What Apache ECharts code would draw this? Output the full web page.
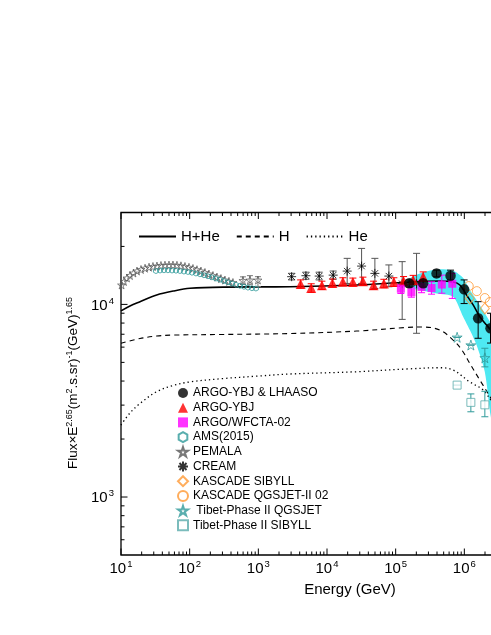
<!DOCTYPE html>
<html><head><meta charset="utf-8">
<script src="https://cdn.jsdelivr.net/npm/echarts@6/dist/echarts.min.js"></script>
<style>html,body{margin:0;padding:0;background:#fff}#c{width:491px;height:635px}</style>
</head><body><div id="c"></div>
<script>
// ---- axis extents & ticks ----
const X_MIN = 10, X_MAX = 1e7, Y_MIN = 500, Y_MAX = 30000;
const xMajorTicks = [10, 100, 1000, 1e4, 1e5, 1e6, 1e7];
const yMajorTicks = [1000, 10000];
const minorMultipliers = [2, 3, 4, 5, 6, 7, 8, 9];

// ---- model curves ----
const hHeE = [10, 13.5, 18.9, 33.1, 57.7, 101, 308, 2884, 26980, 144200, 439500, 687000, 859600, 1.076e6, 1.344e6, 1.681e6, 2.104e6, 2.43e6, 3.9e6];
const hHeF = [9250, 9820, 10330, 11190, 11730, 12120, 12300, 12350, 12610, 13030, 13220, 13060, 12610, 11190, 9940, 8630, 7820, 7360, 6000];
const hE = [10, 18.9, 33, 57, 306, 2880, 27000, 144000, 249000, 440000, 687000, 920000, 1.2e6, 1.68e6, 2.22e6, 2.78e6];
const hF = [6280, 6650, 6850, 6930, 6980, 7060, 7270, 7590, 7630, 7360, 6530, 5800, 4940, 4050, 3450, 3000];
const heE = [10, 13.5, 18.9, 33, 57, 101, 306, 944, 2880, 27000, 144000, 440000, 687000, 1.2e6, 1.87e6, 2.43e6, 3.3e6];
const heF = [2365, 2730, 3060, 3520, 3790, 3960, 4120, 4240, 4350, 4470, 4620, 4690, 4560, 3960, 3600, 3190, 2760];

// ---- uncertainty band ----
const bandE = [150600, 225000, 393800, 687000, 961000, 1.203e6, 1.506e6, 1.988e6, 2.43e6, 3.29e6];
const bandHi = [13390, 14490, 15200, 14960, 13710, 11880, 10540, 8990, 7980, 6530];
const bandLo = [12310, 11880, 11400, 10970, 8630, 7360, 6150, 4460, 2610, 1560];

// ---- measurements ----
const lhaasoE = [157400, 251400, 393800, 629700, 993000, 1.589e6, 2.405e6];
const lhaasoF = [12860, 12860, 14490, 14080, 11970, 8470, 7520];
const lhaasoLo = [12300, 12300, 13900, 13390, 10100, 6670, 6300];
const lhaasoHi = [13400, 13400, 15060, 15060, 13400, 10330, 9000];

const argoE = [4130, 5890, 8430, 12000, 17040, 23820, 33340, 47670, 67300, 94150, 130300, 179700, 251400];
const argoF = [12760, 12160, 12560, 12910, 13120, 13060, 13180, 12560, 12830, 13060, 13220, 13390, 13930];
const argoLo = [12150, 11550, 11950, 12300, 12500, 12450, 12550, 11950, 12200, 12400, 12500, 12650, 13150];
const argoHi = [13400, 12800, 13200, 13550, 13750, 13700, 13850, 13200, 13500, 13750, 13950, 14150, 14750];

const wfE = [119000, 169400, 238300, 333300, 470000, 668000];
const wfF = [12060, 11550, 12300, 12160, 12680, 12800];
const wfLo = [11400, 10900, 11500, 11300, 11430, 10740];
const wfHi = [12700, 12200, 13300, 13100, 14190, 14490];

const amsE = [32.3, 37.0, 42.3, 48.3, 55.3, 63.2, 72.2, 82.6, 94.5, 108, 123.5, 141.2, 161.5, 184.7, 211.2, 241.4, 276.1, 315.7, 361, 412.8, 472, 539.8, 617, 705.7, 807, 922.7];
const amsF = [14900, 14990, 15030, 15030, 14990, 14960, 14900, 14810, 14730, 14600, 14470, 14330, 14170, 14000, 13820, 13620, 13430, 13220, 13020, 12840, 12650, 12490, 12340, 12220, 12130, 12090];

const pamelaE = [10.2, 11.06, 12.23, 13.52, 15.2, 17.1, 19.55, 22.4, 25.6, 29.2, 33.4, 38.2, 43.7, 50.0, 57.1, 65.3, 74.7, 85.4, 97.7, 111.7, 127.7, 146.0, 167.0, 190.9, 218.4, 249.7, 285.5, 326.4, 373.3, 426.8, 597, 755, 987];
const pamelaF = [12610, 13150, 13710, 14120, 14550, 14900, 15180, 15410, 15600, 15730, 15820, 15920, 15980, 16010, 16010, 15960, 15860, 15730, 15580, 15360, 15140, 14900, 14640, 14380, 14120, 13870, 13620, 13380, 13170, 12990, 13300, 13380, 13380];
const pamelaErrE = [597, 755, 987];
const pamelaErrLo = [12700, 12650, 12390];
const pamelaErrHi = [13900, 14100, 13930];

const creamE = [3055, 4930, 7690, 12300, 19670, 31900, 49800, 79600, 124400, 201500];
const creamF = [13930, 14090, 14030, 14190, 14890, 15810, 14490, 14030, 12800, 12800];
const creamLo = [13400, 13500, 13400, 13500, 12850, 12850, 12100, 12350, 8360, 7080];
const creamHi = [14500, 14700, 14700, 14900, 17340, 19530, 17340, 16030, 16670, 18410];

const kasSibE = [1.2e6, 1.99e6];
const kasSibF = [10740, 9530];
const kasQgsE = [1.16e6, 1.52e6, 1.99e6, 2.35e6];
const kasQgsF = [12450, 11720, 10790, 10280];

const tibQgsE = [785000, 1.245e6, 1.99e6];
const tibQgsF = [6750, 6150, 5280];
const tibQgsLo = [6750, 6150, 4740];
const tibQgsHi = [6750, 6150, 5920];
const tibSibE = [785000, 1.245e6, 1.99e6];
const tibSibF = [3810, 3100, 3010];
const tibSibLo = [3810, 2770, 2610];
const tibSibHi = [3810, 3430, 3540];

const lineNames = ['H+He', 'H', 'He'];
const pointNames = ['ARGO-YBJ & LHAASO', 'ARGO-YBJ', 'ARGO/WFCTA-02', 'AMS(2015)', 'PEMALA', 'CREAM', 'KASCADE SIBYLL', 'KASCADE QGSJET-II 02', ' Tibet-Phase II QGSJET', 'Tibet-Phase II SIBYLL'];

// ---- helpers ----
const zip = (a, b) => a.map((v, i) => [v, b[i]]);
const zip3 = (a, b, c) => a.map((v, i) => [v, b[i], c[i]]);
const FONT = '"Liberation Sans", Arial, sans-serif';
const TEAL = '#2f9a9a';
const ORANGE = '#ff9933';

const STAR = 'path://M0,-1L0.2245,-0.309L0.951,-0.309L0.363,0.118L0.588,0.809L0,0.382L-0.588,0.809L-0.363,0.118L-0.951,-0.309L-0.2245,-0.309Z';
const HEX = 'path://M0,-1L0.866,-0.5L0.866,0.5L0,1L-0.866,0.5L-0.866,-0.5Z';
const AST = 'path://M0,-1L0,1M-1,0L1,0M-0.707,-0.707L0.707,0.707M-0.707,0.707L0.707,-0.707';

function errSeries(E, lo, hi, color, cap, width) {
  return {
    type: 'custom', silent: true, z: 4,
    data: zip3(E, lo, hi),
    encode: { x: 0, y: [1, 2] },
    renderItem: function (params, api) {
      const x = api.value(0);
      const a = api.coord([x, api.value(1)]);
      const b = api.coord([x, api.value(2)]);
      const st = { stroke: color, lineWidth: width || 1 };
      return { type: 'group', children: [
        { type: 'line', shape: { x1: a[0], y1: a[1], x2: b[0], y2: b[1] }, style: st },
        { type: 'line', shape: { x1: a[0] - cap, y1: a[1], x2: a[0] + cap, y2: a[1] }, style: st },
        { type: 'line', shape: { x1: b[0] - cap, y1: b[1], x2: b[0] + cap, y2: b[1] }, style: st }
      ] };
    }
  };
}

// tick data
const xTickData = [], yTickData = [];
xMajorTicks.forEach(v => { xTickData.push([v, Y_MIN, 6.5]); if (v < X_MAX) minorMultipliers.forEach(m => xTickData.push([v * m, Y_MIN, 3.5])); });
yTickData.push([X_MIN, 600, 3.5], [X_MIN, 700, 3.5], [X_MIN, 800, 3.5], [X_MIN, 900, 3.5]);
yMajorTicks.forEach(v => { yTickData.push([X_MIN, v, 6.5]); minorMultipliers.forEach(m => { if (v * m < Y_MAX) yTickData.push([X_MIN, v * m, 3.5]); }); });

const tickStyle = { stroke: '#000', lineWidth: 1 };

const chart = echarts.init(document.getElementById('c'), null, { renderer: 'canvas' });
const supRich = {
  b: { fontSize: 15, fontFamily: FONT, color: '#000', verticalAlign: 'bottom' },
  s: { fontSize: 9.5, fontFamily: FONT, color: '#000', verticalAlign: 'bottom', padding: [0, 0, 7, 1] }
};
function powFmt(v) {
  const e = Math.round(Math.log10(v));
  if (Math.abs(Math.log10(v) - e) > 1e-6) return '';
  return '{b|10}{s|' + e + '}';
}

chart.setOption({
  animation: false,
  backgroundColor: '#fff',
  textStyle: { fontFamily: FONT },
  grid: { left: 121, top: 212.5, width: 412, height: 342.5, show: true, borderColor: '#000', borderWidth: 1.3, containLabel: false, outerBoundsMode: 'none' },
  xAxis: {
    type: 'log', logBase: 10, min: X_MIN, max: X_MAX,
    axisLine: { show: false }, axisTick: { show: false }, splitLine: { show: false }, minorTick: { show: false },
    axisLabel: { formatter: powFmt, rich: supRich, margin: 4, showMinLabel: true, showMaxLabel: true }
  },
  yAxis: {
    type: 'log', logBase: 10, min: Y_MIN, max: Y_MAX,
    axisLine: { show: false }, axisTick: { show: false }, splitLine: { show: false },
    axisLabel: { formatter: powFmt, rich: supRich, margin: 7 }
  },
  legend: [
    { data: lineNames, orient: 'horizontal', left: 133, top: 224, itemWidth: 37, itemHeight: 10, itemGap: 16,
      itemStyle: { opacity: 0 },
      textStyle: { fontSize: 15, fontFamily: FONT, color: '#000' }, selectedMode: false },
    { data: pointNames, orient: 'vertical', left: 172, top: 382, itemWidth: 10, itemHeight: 10, itemGap: 2.7,
      textStyle: { fontSize: 12, fontFamily: FONT, color: '#000' }, selectedMode: false }
  ],
  graphic: [
    { type: 'text', x: 73, y: 383, rotation: Math.PI / 2, z: 10,
      style: { text: 'Flux×E{s|2.65}(m{s|2}.s.sr){s|-1}(GeV){s|1.65}', align: 'center', verticalAlign: 'middle',
        font: '13.5px ' + FONT, fill: '#000',
        rich: { s: { fontSize: 9, fontFamily: FONT, verticalAlign: 'bottom', padding: [0, 0, 6, 0] } } } },
    { type: 'text', x: 350, y: 590, z: 10,
      style: { text: 'Energy (GeV)', align: 'center', verticalAlign: 'middle', font: '15px ' + FONT, fill: '#000' } }
  ],
  series: [
    // band
    { type: 'custom', silent: true, z: 1, data: [[bandE[0], bandHi[0]]], encode: { x: 0, y: 1 },
      renderItem: function (params, api) {
        const pts = [];
        bandE.forEach((e, i) => pts.push(api.coord([e, bandHi[i]])));
        for (let i = bandE.length - 1; i >= 0; i--) pts.push(api.coord([bandE[i], bandLo[i]]));
        return { type: 'polygon', shape: { points: pts, smooth: 0.25 }, style: { fill: '#4ee9f2' } };
      } },
    // ticks
    { type: 'custom', silent: true, z: 6, data: xTickData, encode: { x: 0, y: 1 },
      renderItem: function (params, api) {
        const v = api.value(0), L = api.value(2);
        const b = api.coord([v, Y_MIN]), t = api.coord([v, Y_MAX]);
        return { type: 'group', children: [
          { type: 'line', shape: { x1: b[0], y1: b[1], x2: b[0], y2: b[1] - L }, style: tickStyle },
          { type: 'line', shape: { x1: t[0], y1: t[1], x2: t[0], y2: t[1] + L }, style: tickStyle }
        ] };
      } },
    { type: 'custom', silent: true, z: 6, data: yTickData, encode: { x: 0, y: 1 },
      renderItem: function (params, api) {
        const v = api.value(1), L = api.value(2);
        const l = api.coord([X_MIN, v]), r = api.coord([X_MAX, v]);
        return { type: 'group', children: [
          { type: 'line', shape: { x1: l[0], y1: l[1], x2: l[0] + L, y2: l[1] }, style: tickStyle },
          { type: 'line', shape: { x1: r[0], y1: r[1], x2: r[0] - L, y2: r[1] }, style: tickStyle }
        ] };
      } },
    // model lines
    { name: 'H+He', type: 'line', data: zip(hHeE, hHeF), symbol: 'none', smooth: 0.35, z: 3,
      lineStyle: { color: '#000', width: 1.6, type: 'solid' }, itemStyle: { color: '#000' } },
    { name: 'H', type: 'line', data: zip(hE, hF), symbol: 'none', smooth: 0.35, z: 3,
      lineStyle: { color: '#000', width: 1.1, type: [5, 4] }, itemStyle: { color: '#000' } },
    { name: 'He', type: 'line', data: zip(heE, heF), symbol: 'none', smooth: 0.35, z: 3,
      lineStyle: { color: '#000', width: 1.3, type: [1.3, 3] }, itemStyle: { color: '#000' } },
    // error bars
    errSeries(pamelaErrE, pamelaErrLo, pamelaErrHi, '#777', 3, 1),
    errSeries(creamE, creamLo, creamHi, '#555', 3.5, 1),
    errSeries(argoE, argoLo, argoHi, '#ff0000', 3.5, 1),
    errSeries(wfE, wfLo, wfHi, '#ff00ff', 3.5, 1),
    errSeries(lhaasoE, lhaasoLo, lhaasoHi, '#000', 3.5, 1),
    errSeries(tibQgsE, tibQgsLo, tibQgsHi, TEAL, 3.5, 1),
    errSeries(tibSibE, tibSibLo, tibSibHi, TEAL, 3.5, 1),
    // points
    { name: 'PEMALA', type: 'scatter', data: zip(pamelaE, pamelaF), symbol: STAR, symbolSize: 8, z: 5,
      itemStyle: { color: 'rgba(255,255,255,0)', borderColor: '#555', borderWidth: 0.9 } },
    { name: 'AMS(2015)', type: 'scatter', data: zip(amsE, amsF), symbol: HEX, symbolSize: 5, z: 5,
      itemStyle: { color: 'rgba(255,255,255,0)', borderColor: TEAL, borderWidth: 1 } },
    { name: 'CREAM', type: 'scatter', data: zip(creamE, creamF), symbol: AST, symbolSize: 9, z: 5,
      itemStyle: { color: 'rgba(0,0,0,0)', borderColor: '#000', borderWidth: 1 } },
    { name: 'ARGO-YBJ', type: 'scatter', data: zip(argoE, argoF), symbol: 'triangle', symbolSize: 10, z: 5,
      itemStyle: { color: '#ff0000' } },
    { name: 'ARGO/WFCTA-02', type: 'scatter', data: zip(wfE, wfF), symbol: 'rect', symbolSize: 8, z: 5,
      itemStyle: { color: '#ff00ff' } },
    { name: 'KASCADE SIBYLL', type: 'scatter', data: zip(kasSibE, kasSibF), symbol: 'diamond', symbolSize: [9, 11], z: 5,
      itemStyle: { color: 'rgba(255,255,255,0)', borderColor: ORANGE, borderWidth: 1 } },
    { name: 'KASCADE QGSJET-II 02', type: 'scatter', data: zip(kasQgsE, kasQgsF), symbol: 'circle', symbolSize: 9, z: 5,
      itemStyle: { color: 'rgba(255,255,255,0)', borderColor: ORANGE, borderWidth: 1 } },
    { name: 'ARGO-YBJ & LHAASO', type: 'scatter', data: zip(lhaasoE, lhaasoF), symbol: 'circle', symbolSize: 10.5, z: 6,
      itemStyle: { color: '#000' } },
    { name: ' Tibet-Phase II QGSJET', type: 'scatter', data: zip(tibQgsE, tibQgsF), symbol: STAR, symbolSize: 10, z: 5,
      itemStyle: { color: 'rgba(255,255,255,0)', borderColor: TEAL, borderWidth: 1 } },
    { name: 'Tibet-Phase II SIBYLL', type: 'scatter', data: zip(tibSibE, tibSibF), symbol: 'rect', symbolSize: 8, z: 5,
      itemStyle: { color: '#fff', borderColor: '#5aabab', borderWidth: 1 } }
  ]
});
</script></body></html>
